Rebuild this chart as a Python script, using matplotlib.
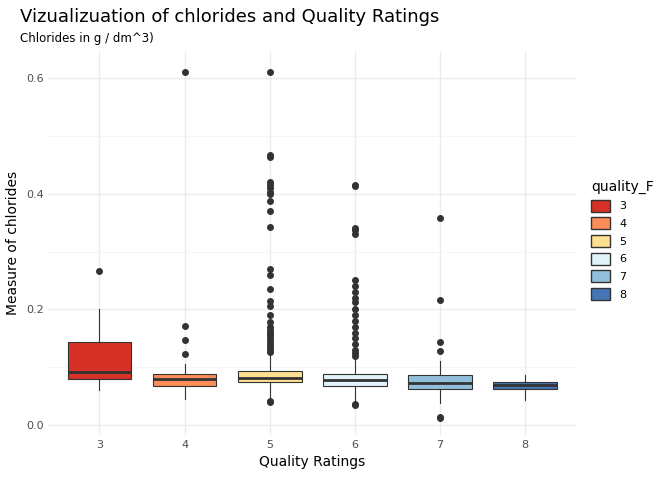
import matplotlib
matplotlib.use("Agg")
import matplotlib.pyplot as plt
from matplotlib.patches import Patch

qualities = ["3", "4", "5", "6", "7", "8"]
colors = ["#D73027", "#FC8D59", "#FEE090", "#E0F3F8", "#91BFDB", "#4575B4"]
whislo = [0.061, 0.045, 0.045, 0.040, 0.038, 0.044]
q1 = [0.079, 0.067, 0.074, 0.068, 0.062, 0.062]
med = [0.091, 0.080, 0.081, 0.078, 0.073, 0.069]
q3 = [0.143, 0.089, 0.094, 0.088, 0.087, 0.075]
whishi = [0.200, 0.105, 0.123, 0.118, 0.110, 0.086]
fliers = [
    [0.267],
    [0.122, 0.147, 0.172, 0.610],
    [0.039, 0.041, 0.126, 0.130, 0.135, 0.140, 0.145, 0.150, 0.155, 0.160,
     0.165, 0.170, 0.178, 0.190, 0.205, 0.215, 0.235, 0.260, 0.270, 0.343,
     0.370, 0.387, 0.400, 0.403, 0.410, 0.415, 0.420, 0.464, 0.467, 0.610],
    [0.034, 0.037, 0.120, 0.125, 0.130, 0.140, 0.150, 0.160, 0.170, 0.180,
     0.190, 0.200, 0.213, 0.220, 0.230, 0.240, 0.250, 0.330, 0.337, 0.340,
     0.413, 0.415],
    [0.012, 0.014, 0.128, 0.143, 0.216, 0.358],
    [],
]

stats = [dict(whislo=whislo[i], q1=q1[i], med=med[i], q3=q3[i], whishi=whishi[i],
              fliers=fliers[i]) for i in range(len(qualities))]

fig = plt.figure(figsize=(6.72, 4.8), dpi=100)
ax = fig.add_axes([0.072, 0.094, 0.785, 0.80])
bp = ax.bxp(stats, positions=range(1, 7), widths=0.75, patch_artist=True,
            boxprops=dict(edgecolor="#333333", linewidth=0.8),
            medianprops=dict(color="#333333", linewidth=2),
            whiskerprops=dict(color="#333333", linewidth=0.8),
            capprops=dict(linewidth=0),
            flierprops=dict(marker="o", markerfacecolor="#333333",
                            markeredgecolor="#333333", markersize=4))
for b, c in zip(bp["boxes"], colors):
    b.set_facecolor(c)

ax.set_xlim(0.4, 6.6)
ax.set_ylim(-0.017, 0.647)
ax.set_xticks(range(1, 7))
ax.set_xticklabels(qualities)
ax.set_yticks([0.0, 0.2, 0.4, 0.6])
ax.set_yticklabels(["0.0", "0.2", "0.4", "0.6"])
ax.set_axisbelow(True)
ax.grid(True, color="#EBEBEB", linewidth=1.0)
ax.set_yticks([0.1, 0.3, 0.5], minor=True)
ax.grid(True, which="minor", axis="y", color="#F4F4F4", linewidth=0.6)
ax.tick_params(length=0, labelsize=8, colors="#4D4D4D")
ax.tick_params(which="minor", length=0)
for s in ax.spines.values():
    s.set_visible(False)
ax.set_xlabel("Quality Ratings", fontsize=10)
ax.set_ylabel("Measure of chlorides", fontsize=10)
fig.text(0.03, 0.955, "Vizualizuation of chlorides and Quality Ratings", fontsize=13)
fig.text(0.03, 0.912, "Chlorides in g / dm^3)", fontsize=8.5)

handles = [Patch(facecolor=c, edgecolor="#333333", label=q) for q, c in zip(qualities, colors)]
fig.legend(handles=handles, title="quality_F", loc="center left",
           bbox_to_anchor=(0.865, 0.5), frameon=False, fontsize=8,
           title_fontsize=10, handlelength=1.7, handleheight=1.3, alignment="left")

fig.savefig("out.png", dpi=100)
